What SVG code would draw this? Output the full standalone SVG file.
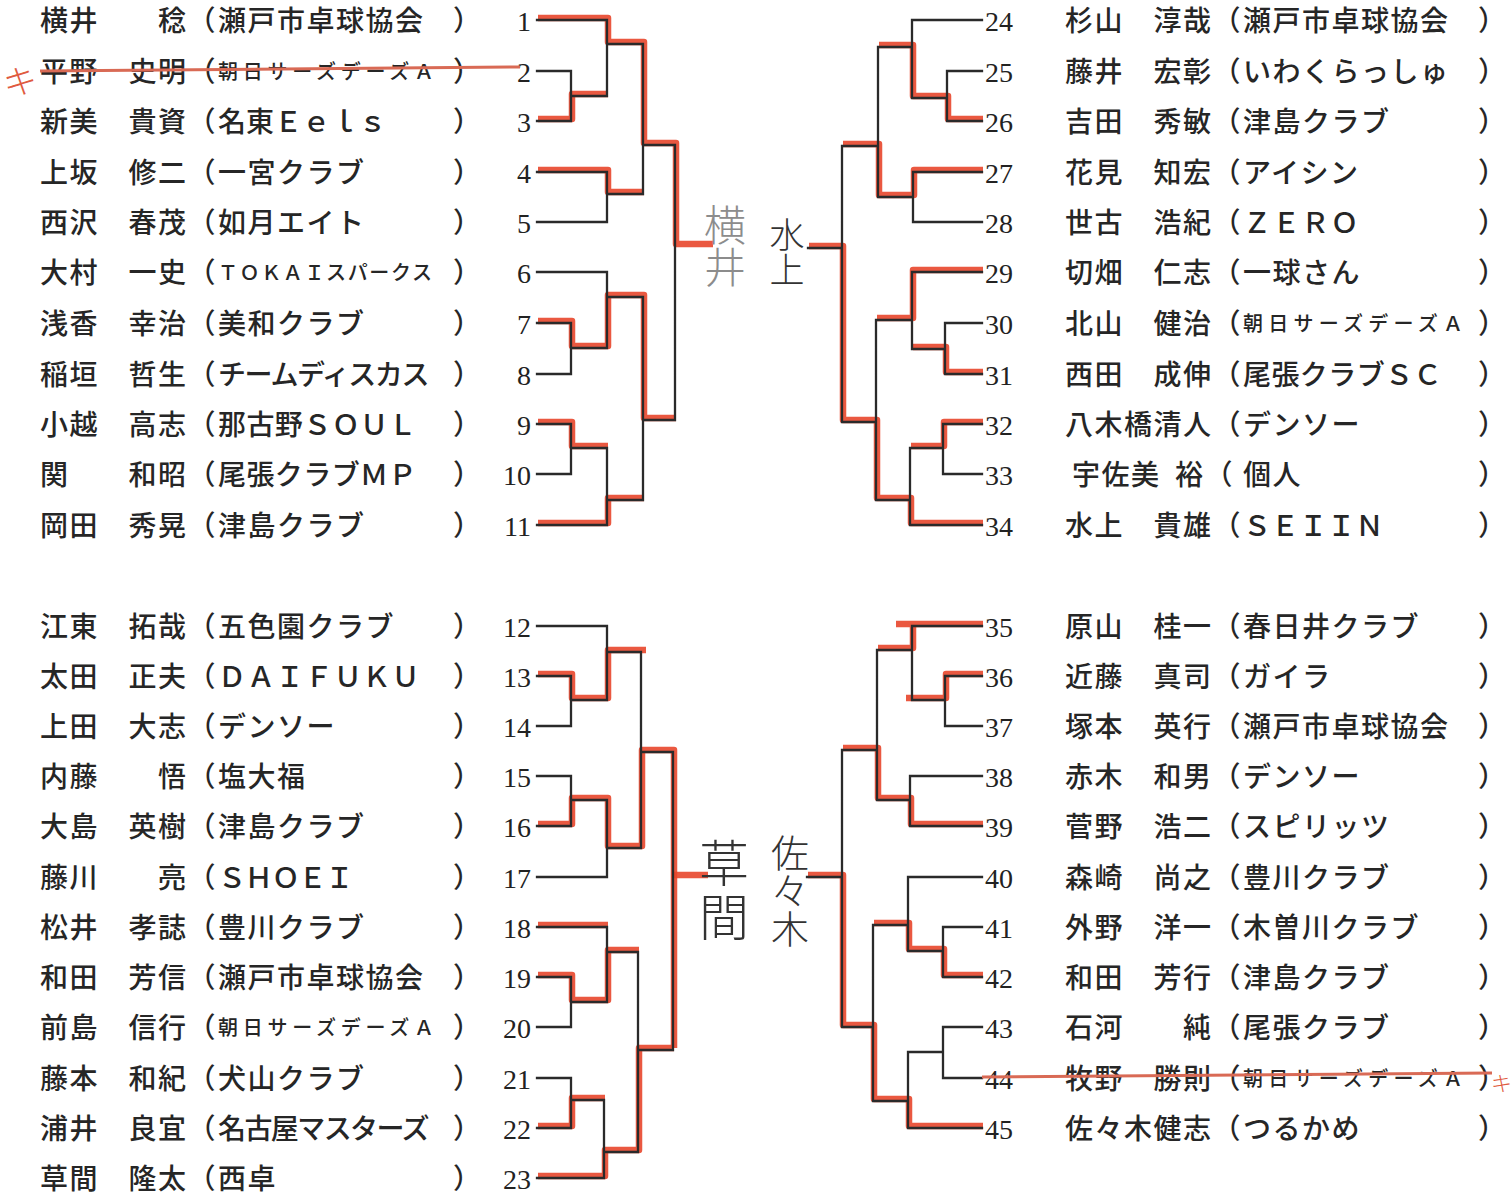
<svg xmlns="http://www.w3.org/2000/svg" width="1512" height="1195" viewBox="0 0 1512 1195">
<style>
.nm{font-family:'Noto Sans CJK JP','Noto Sans CJK SC',sans-serif;font-size:28px;font-weight:500;letter-spacing:1.5px;fill:#262626}
.cl{font-family:'Noto Sans CJK JP','Noto Sans CJK SC',sans-serif;font-size:28px;font-weight:500;letter-spacing:1.5px;fill:#262626}
.sm{font-family:'Noto Sans CJK JP','Noto Sans CJK SC',sans-serif;font-size:20px;font-weight:500;fill:#262626}
.pr{font-family:'Noto Sans CJK JP','Noto Sans CJK SC',sans-serif;font-size:28px;font-weight:500;fill:#262626}
.nl{font-family:'Liberation Serif',serif;font-size:28px;fill:#222;text-anchor:end}
.nr{font-family:'Liberation Serif',serif;font-size:28px;fill:#222}
.k{fill:none;stroke:#2a2a2a;stroke-width:2.3;stroke-linecap:square}
.r{fill:none;stroke:#e8462b;stroke-width:6.5;stroke-linejoin:round;stroke-linecap:butt;opacity:.9}
.hw{font-family:'Noto Sans CJK JP','Noto Sans CJK SC',sans-serif;font-weight:300}
.vt{font-family:'Noto Sans CJK JP','Noto Sans CJK SC',sans-serif;font-weight:300;writing-mode:vertical-rl}
.st{fill:none;stroke:#d96a55;stroke-width:3}
</style>
<rect width="1512" height="1195" fill="#fff"/>

<g id="connectors">
<g id="red" transform="translate(1,-2)">
<path class="r" d="M537,20 H607 V44 H643 V145 H675 V246 H712"/>
<path class="r" d="M537,121 H571 V96 H607"/>
<path class="r" d="M537,172 H607 V194 H643"/>
<path class="r" d="M537,323 H571 V348 H607 V297 H643 V420 H675"/>
<path class="r" d="M537,424 H571 V448 H607"/>
<path class="r" d="M537,525 H607 V500 H643"/>
<path class="r" d="M537,676 H571 V700 H607 V652 H645"/>
<path class="r" d="M537,826 H571 V800 H607 V848 H641 V752 H673 V1050"/>
<path class="r" d="M537,927 H607"/>
<path class="r" d="M537,977 H571 V1002 H607 V952 H638"/>
<path class="r" d="M537,1128 H571 V1100 H604"/>
<path class="r" d="M537,1178 H604 V1152 H638 V1050 H673"/>
<path class="r" d="M673,877 H707"/>
<path class="r" d="M982,121 H947 V98 H912 V47 H878"/>
<path class="r" d="M982,172 H913 V197 H878 V146 H842"/>
<path class="r" d="M982,272 H912 V320 H876"/>
<path class="r" d="M982,374 H945 V349 H912"/>
<path class="r" d="M982,424 H943 V448 H910"/>
<path class="r" d="M982,525 H910 V500 H876 V422 H842 V248 H808"/>
<path class="r" d="M982,626 H895 M912,626 V650 H877"/>
<path class="r" d="M982,676 H945 V700 H905"/>
<path class="r" d="M982,826 H910 V800 H877 V750 H842"/>
<path class="r" d="M982,977 H943 V951 H908 V925 H873"/>
<path class="r" d="M982,1128 H908 V1101 H873 V1027 H842 V877 H807"/>
</g>
<g id="lines">
<path class="k" d="M537,20 H607 M537,71 H571 M537,121 H571 M571,71 V121 M571,96 H607 M607,20 V96 M607,44 H643
M537,172 H607 M537,222 H607 M607,172 V222 M607,194 H643 M643,44 V194 M643,145 H675
M537,272 H607 M537,323 H571 M537,374 H571 M571,323 V374 M571,348 H607 M607,272 V348 M607,297 H643
M537,424 H571 M537,474 H571 M571,424 V474 M571,448 H607 M537,525 H607 M607,448 V525 M607,500 H643
M643,297 V500 M643,420 H675 M675,145 V420"/>
<path class="k" d="M537,626 H607 M537,676 H571 M537,726 H571 M571,676 V726 M571,700 H607 M607,626 V700 M607,652 H641
M537,776 H571 M537,826 H571 M571,776 V826 M571,800 H607 M537,877 H607 M607,800 V877 M607,848 H641
M641,652 V848 M641,752 H673
M537,927 H607 M537,977 H571 M537,1027 H571 M571,977 V1027 M571,1002 H607 M607,927 V1002 M607,952 H638
M537,1078 H571 M537,1128 H571 M571,1078 V1128 M571,1100 H604 M537,1178 H604 M604,1100 V1178 M604,1152 H638
M638,952 V1152 M638,1050 H673 M673,752 V1050"/>
<path class="k" d="M982,20 H912 M982,71 H947 M982,121 H947 M947,71 V121 M947,98 H912 M912,20 V98 M912,47 H878
M982,172 H913 M982,222 H913 M913,172 V222 M913,197 H878 M878,47 V197 M878,146 H842
M982,272 H912 M982,323 H945 M982,374 H945 M945,323 V374 M945,349 H912 M912,272 V349 M912,320 H876
M982,424 H943 M982,474 H943 M943,424 V474 M943,448 H910 M982,525 H910 M910,448 V525 M910,500 H876
M876,320 V500 M876,422 H842 M842,146 V422 M842,248 H808"/>
<path class="k" d="M982,626 H912 M982,676 H945 M982,726 H945 M945,676 V726 M945,700 H912 M912,626 V700 M912,650 H877
M982,776 H910 M982,826 H910 M910,776 V826 M910,800 H877 M877,650 V800 M877,750 H842
M982,877 H908 M982,927 H943 M982,977 H943 M943,927 V977 M943,951 H908 M908,877 V951 M908,925 H873
M982,1027 H943 M982,1078 H943 M943,1027 V1078 M943,1052 H908 M982,1128 H908 M908,1052 V1128 M908,1101 H873
M873,925 V1101 M873,1027 H842 M842,750 V1027 M842,877 H807"/>
</g>
</g>

<g id="p1"><text class="nl" x="531" y="31">1</text><text class="nm" x="40" y="31">横井　　稔（</text><text class="cl" x="218" y="31">瀬戸市卓球協会</text><text class="pr" x="453" y="31">）</text></g>
<g id="p2"><text class="nl" x="531" y="82">2</text><text class="nm" x="40" y="82">平野　史明（</text><text class="sm" x="218" y="79" textLength="216" lengthAdjust="spacing">朝日サーズデーズＡ</text><text class="pr" x="453" y="82">）</text></g>
<g id="p3"><text class="nl" x="531" y="132">3</text><text class="nm" x="40" y="132">新美　貴資（</text><text class="cl" x="218" y="132" textLength="170" lengthAdjust="spacing">名東Ｅｅｌｓ</text><text class="pr" x="453" y="132">）</text></g>
<g id="p4"><text class="nl" x="531" y="183">4</text><text class="nm" x="40" y="183">上坂　修二（</text><text class="cl" x="218" y="183">一宮クラブ</text><text class="pr" x="453" y="183">）</text></g>
<g id="p5"><text class="nl" x="531" y="233">5</text><text class="nm" x="40" y="233">西沢　春茂（</text><text class="cl" x="218" y="233">如月エイト</text><text class="pr" x="453" y="233">）</text></g>
<g id="p6"><text class="nl" x="531" y="283">6</text><text class="nm" x="40" y="283">大村　一史（</text><text class="sm" x="218" y="280" textLength="214" lengthAdjust="spacing">ＴＯＫＡＩスパークス</text><text class="pr" x="453" y="283">）</text></g>
<g id="p7"><text class="nl" x="531" y="334">7</text><text class="nm" x="40" y="334">浅香　幸治（</text><text class="cl" x="218" y="334">美和クラブ</text><text class="pr" x="453" y="334">）</text></g>
<g id="p8"><text class="nl" x="531" y="385">8</text><text class="nm" x="40" y="385">稲垣　哲生（</text><text class="cl" x="218" y="385" textLength="213" lengthAdjust="spacing">チームディスカス</text><text class="pr" x="453" y="385">）</text></g>
<g id="p9"><text class="nl" x="531" y="435">9</text><text class="nm" x="40" y="435">小越　高志（</text><text class="cl" x="218" y="435" textLength="200" lengthAdjust="spacing">那古野ＳＯＵＬ</text><text class="pr" x="453" y="435">）</text></g>
<g id="p10"><text class="nl" x="531" y="485">10</text><text class="nm" x="40" y="485">関　　和昭（</text><text class="cl" x="218" y="485" textLength="200" lengthAdjust="spacing">尾張クラブＭＰ</text><text class="pr" x="453" y="485">）</text></g>
<g id="p11"><text class="nl" x="531" y="536">11</text><text class="nm" x="40" y="536">岡田　秀晃（</text><text class="cl" x="218" y="536">津島クラブ</text><text class="pr" x="453" y="536">）</text></g>

<g id="p12"><text class="nl" x="531" y="637">12</text><text class="nm" x="40" y="637">江東　拓哉（</text><text class="cl" x="218" y="637">五色園クラブ</text><text class="pr" x="453" y="637">）</text></g>
<g id="p13"><text class="nl" x="531" y="687">13</text><text class="nm" x="40" y="687">太田　正夫（</text><text class="cl" x="218" y="687" textLength="203" lengthAdjust="spacing">ＤＡＩＦＵＫＵ</text><text class="pr" x="453" y="687">）</text></g>
<g id="p14"><text class="nl" x="531" y="737">14</text><text class="nm" x="40" y="737">上田　大志（</text><text class="cl" x="218" y="737">デンソー</text><text class="pr" x="453" y="737">）</text></g>
<g id="p15"><text class="nl" x="531" y="787">15</text><text class="nm" x="40" y="787">内藤　　悟（</text><text class="cl" x="218" y="787">塩大福</text><text class="pr" x="453" y="787">）</text></g>
<g id="p16"><text class="nl" x="531" y="837">16</text><text class="nm" x="40" y="837">大島　英樹（</text><text class="cl" x="218" y="837">津島クラブ</text><text class="pr" x="453" y="837">）</text></g>
<g id="p17"><text class="nl" x="531" y="888">17</text><text class="nm" x="40" y="888">藤川　　亮（</text><text class="cl" x="218" y="888" textLength="137" lengthAdjust="spacing">ＳＨＯＥＩ</text><text class="pr" x="453" y="888">）</text></g>
<g id="p18"><text class="nl" x="531" y="938">18</text><text class="nm" x="40" y="938">松井　孝誌（</text><text class="cl" x="218" y="938">豊川クラブ</text><text class="pr" x="453" y="938">）</text></g>
<g id="p19"><text class="nl" x="531" y="988">19</text><text class="nm" x="40" y="988">和田　芳信（</text><text class="cl" x="218" y="988">瀬戸市卓球協会</text><text class="pr" x="453" y="988">）</text></g>
<g id="p20"><text class="nl" x="531" y="1038">20</text><text class="nm" x="40" y="1038">前島　信行（</text><text class="sm" x="218" y="1035" textLength="216" lengthAdjust="spacing">朝日サーズデーズＡ</text><text class="pr" x="453" y="1038">）</text></g>
<g id="p21"><text class="nl" x="531" y="1089">21</text><text class="nm" x="40" y="1089">藤本　和紀（</text><text class="cl" x="218" y="1089">犬山クラブ</text><text class="pr" x="453" y="1089">）</text></g>
<g id="p22"><text class="nl" x="531" y="1139">22</text><text class="nm" x="40" y="1139">浦井　良宜（</text><text class="cl" x="218" y="1139" textLength="213" lengthAdjust="spacing">名古屋マスターズ</text><text class="pr" x="453" y="1139">）</text></g>
<g id="p23"><text class="nl" x="531" y="1189">23</text><text class="nm" x="40" y="1189">草間　隆太（</text><text class="cl" x="218" y="1189">西卓</text><text class="pr" x="453" y="1189">）</text></g>

<g id="p24"><text class="nr" x="985" y="31">24</text><text class="nm" x="1065" y="31">杉山　淳哉（</text><text class="cl" x="1243" y="31">瀬戸市卓球協会</text><text class="pr" x="1478" y="31">）</text></g>
<g id="p25"><text class="nr" x="985" y="82">25</text><text class="nm" x="1065" y="82">藤井　宏彰（</text><text class="cl" x="1243" y="82">いわくらっしゅ</text><text class="pr" x="1478" y="82">）</text></g>
<g id="p26"><text class="nr" x="985" y="132">26</text><text class="nm" x="1065" y="132">吉田　秀敏（</text><text class="cl" x="1243" y="132">津島クラブ</text><text class="pr" x="1478" y="132">）</text></g>
<g id="p27"><text class="nr" x="985" y="183">27</text><text class="nm" x="1065" y="183">花見　知宏（</text><text class="cl" x="1243" y="183">アイシン</text><text class="pr" x="1478" y="183">）</text></g>
<g id="p28"><text class="nr" x="985" y="233">28</text><text class="nm" x="1065" y="233">世古　浩紀（</text><text class="cl" x="1243" y="233" textLength="117" lengthAdjust="spacing">ＺＥＲＯ</text><text class="pr" x="1478" y="233">）</text></g>
<g id="p29"><text class="nr" x="985" y="283">29</text><text class="nm" x="1065" y="283">切畑　仁志（</text><text class="cl" x="1243" y="283">一球さん</text><text class="pr" x="1478" y="283">）</text></g>
<g id="p30"><text class="nr" x="985" y="334">30</text><text class="nm" x="1065" y="334">北山　健治（</text><text class="sm" x="1243" y="331" textLength="220" lengthAdjust="spacing">朝日サーズデーズＡ</text><text class="pr" x="1478" y="334">）</text></g>
<g id="p31"><text class="nr" x="985" y="385">31</text><text class="nm" x="1065" y="385">西田　成伸（</text><text class="cl" x="1243" y="385" textLength="200" lengthAdjust="spacing">尾張クラブＳＣ</text><text class="pr" x="1478" y="385">）</text></g>
<g id="p32"><text class="nr" x="985" y="435">32</text><text class="nm" x="1065" y="435">八木橋清人（</text><text class="cl" x="1243" y="435">デンソー</text><text class="pr" x="1478" y="435">）</text></g>
<g id="p33"><text class="nr" x="985" y="485">33</text><text class="nm" x="1072" y="485" letter-spacing="-3">宇佐美</text><text class="nm" x="1175" y="485">裕（</text><text class="cl" x="1243" y="485">個人</text><text class="pr" x="1478" y="485">）</text></g>
<g id="p34"><text class="nr" x="985" y="536">34</text><text class="nm" x="1065" y="536">水上　貴雄（</text><text class="cl" x="1243" y="536" textLength="142" lengthAdjust="spacing">ＳＥＩＩＮ</text><text class="pr" x="1478" y="536">）</text></g>

<g id="p35"><text class="nr" x="985" y="637">35</text><text class="nm" x="1065" y="637">原山　桂一（</text><text class="cl" x="1243" y="637">春日井クラブ</text><text class="pr" x="1478" y="637">）</text></g>
<g id="p36"><text class="nr" x="985" y="687">36</text><text class="nm" x="1065" y="687">近藤　真司（</text><text class="cl" x="1243" y="687">ガイラ</text><text class="pr" x="1478" y="687">）</text></g>
<g id="p37"><text class="nr" x="985" y="737">37</text><text class="nm" x="1065" y="737">塚本　英行（</text><text class="cl" x="1243" y="737">瀬戸市卓球協会</text><text class="pr" x="1478" y="737">）</text></g>
<g id="p38"><text class="nr" x="985" y="787">38</text><text class="nm" x="1065" y="787">赤木　和男（</text><text class="cl" x="1243" y="787">デンソー</text><text class="pr" x="1478" y="787">）</text></g>
<g id="p39"><text class="nr" x="985" y="837">39</text><text class="nm" x="1065" y="837">菅野　浩二（</text><text class="cl" x="1243" y="837">スピリッツ</text><text class="pr" x="1478" y="837">）</text></g>
<g id="p40"><text class="nr" x="985" y="888">40</text><text class="nm" x="1065" y="888">森崎　尚之（</text><text class="cl" x="1243" y="888">豊川クラブ</text><text class="pr" x="1478" y="888">）</text></g>
<g id="p41"><text class="nr" x="985" y="938">41</text><text class="nm" x="1065" y="938">外野　洋一（</text><text class="cl" x="1243" y="938">木曽川クラブ</text><text class="pr" x="1478" y="938">）</text></g>
<g id="p42"><text class="nr" x="985" y="988">42</text><text class="nm" x="1065" y="988">和田　芳行（</text><text class="cl" x="1243" y="988">津島クラブ</text><text class="pr" x="1478" y="988">）</text></g>
<g id="p43"><text class="nr" x="985" y="1038">43</text><text class="nm" x="1065" y="1038">石河　　純（</text><text class="cl" x="1243" y="1038">尾張クラブ</text><text class="pr" x="1478" y="1038">）</text></g>
<g id="p44"><text class="nr" x="985" y="1089">44</text><text class="nm" x="1065" y="1089">牧野　勝則（</text><text class="sm" x="1243" y="1086" textLength="220" lengthAdjust="spacing">朝日サーズデーズＡ</text><text class="pr" x="1478" y="1089">）</text></g>
<g id="p45"><text class="nr" x="985" y="1139">45</text><text class="nm" x="1065" y="1139">佐々木健志（</text><text class="cl" x="1243" y="1139">つるかめ</text><text class="pr" x="1478" y="1139">）</text></g>

<g id="annotations">
<text class="vt" x="725" y="204" font-size="42" fill="#8c8c8c">横井</text>
<text class="vt" x="787" y="217" font-size="35" fill="#333">水上</text>
<text class="vt" x="724" y="838" font-size="50" letter-spacing="4" fill="#333">草間</text>
<text class="vt" x="790" y="834" font-size="38" fill="#333">佐々木</text>
</g>
<g id="strikes">
<path class="st" d="M40,71 L520,67"/>
<path class="st" d="M982,1077 L1492,1073"/>
<text class="hw" x="3" y="94" font-size="34" fill="#e05a40" font-weight="500" transform="rotate(-8 20 80)">キ</text>
<text class="hw" x="1491" y="1091" font-size="21" fill="#e05a40" font-weight="500">キ</text>
</g>
</svg>
